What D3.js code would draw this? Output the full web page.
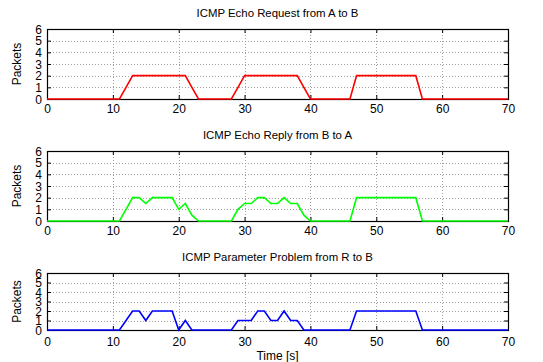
<!DOCTYPE html>
<html><head><meta charset="utf-8">
<script src="https://cdn.jsdelivr.net/npm/d3@7"></script>
<style>body{margin:0;background:#fff}svg{display:block}text{font-family:"Liberation Sans",Arial,sans-serif;}</style>
</head><body>
<svg id="c" width="543" height="362"></svg>
<script>
const times = d3.range(0, 71);
const titles = ["ICMP Echo Request from A to B","ICMP Echo Reply from B to A","ICMP Parameter Problem from R to B"];
const xTicks = [0,10,20,30,40,50,60,70];
const yTicks = [0,1,2,3,4,5,6];
const colors = ["#ff0000","#00ff00","#0000ff"];
// values per second t = 0..70
const requestAB = [0,0,0,0,0,0,0,0,0,0,0,0,1,2,2,2,2,2,2,2,2,2,1,0,0,0,0,0,0,1,2,2,2,2,2,2,2,2,2,1,0,0,0,0,0,0,0,2,2,2,2,2,2,2,2,2,2,0,0,0,0,0,0,0,0,0,0,0,0,0,0];
const replyBA   = [0,0,0,0,0,0,0,0,0,0,0,0,1,2,2,1.5,2,2,2,2,1,1.5,0.5,0,0,0,0,0,0,1,1.5,1.5,2,2,1.5,1.5,2,1.5,1.5,0.5,0,0,0,0,0,0,0,2,2,2,2,2,2,2,2,2,2,0,0,0,0,0,0,0,0,0,0,0,0,0,0];
const paramRB   = [0,0,0,0,0,0,0,0,0,0,0,0,1,2,2,1,2,2,2,2,0,1,0,0,0,0,0,0,0,1,1,1,2,2,1,1,2,1,1,0,0,0,0,0,0,0,0,2,2,2,2,2,2,2,2,2,2,0,0,0,0,0,0,0,0,0,0,0,0,0,0];
const series = [requestAB, replyBA, paramRB];

const svg = d3.select("#c");
const L = 47, R = 508;
const panels = [{top:29,bottom:99,title:17,pad:5},{top:151,bottom:221,title:139,pad:5},{top:273,bottom:330,title:261,pad:7}];
const x = d3.scaleLinear().domain([0,70]).range([L,R]);

panels.forEach((p,i)=>{
  const y = d3.scaleLinear().domain([0,6]).range([p.bottom,p.top]);
  const g = svg.append("g");
  // grid
  g.selectAll(".gy").data(yTicks.slice(1,-1)).join("line")
    .attr("x1",L).attr("x2",R).attr("y1",d=>Math.round(y(d))+0.5).attr("y2",d=>Math.round(y(d))+0.5)
    .attr("stroke","#888").attr("stroke-width",0.8).attr("stroke-dasharray","1,2");
  g.selectAll(".gx").data(xTicks.slice(1,-1)).join("line")
    .attr("x1",d=>Math.round(x(d))+0.5).attr("x2",d=>Math.round(x(d))+0.5).attr("y1",p.top).attr("y2",p.bottom)
    .attr("stroke","#888").attr("stroke-width",0.8).attr("stroke-dasharray","1,2");
  // axes with inward ticks
  const ax = g.append("g").attr("transform",`translate(0,${p.bottom})`)
    .call(d3.axisBottom(x).tickValues(xTicks).tickSize(-4).tickPadding(p.pad).tickFormat(d3.format("d")));
  const axTop = g.append("g").attr("transform",`translate(0,${p.top})`)
    .call(d3.axisTop(x).tickValues(xTicks).tickSize(-4).tickFormat(""));
  const ay = g.append("g").attr("transform",`translate(${L},0)`)
    .call(d3.axisLeft(y).tickValues(yTicks).tickSize(-4).tickPadding(5).tickFormat(d3.format("d")));
  const ayR = g.append("g").attr("transform",`translate(${R},0)`)
    .call(d3.axisRight(y).tickValues(yTicks).tickSize(-4).tickFormat(""));
  [ax,axTop,ay,ayR].forEach(a=>{
    a.select(".domain").remove();
    a.selectAll("line").attr("stroke","#000");
    a.selectAll("text").attr("font-size","12px").attr("fill","#000").attr("font-family","Liberation Sans, Arial, sans-serif");
  });
  ay.selectAll("text").attr("dy","0.36em");
  // frame
  g.append("rect").attr("x",L+0.5).attr("y",p.top+0.5).attr("width",R-L).attr("height",p.bottom-p.top)
    .attr("fill","none").attr("stroke","#000").attr("stroke-width",1.2);
  // line
  const line = d3.line().x((d,j)=>x(times[j])).y(d=>y(d));
  g.append("path").datum(series[i]).attr("d",line).attr("fill","none")
    .attr("stroke",colors[i]).attr("stroke-width",1.6).attr("stroke-linejoin","miter");
  // title
  g.append("text").attr("x",(L+R)/2).attr("y",p.title).attr("text-anchor","middle")
    .attr("font-size","11.4px").text(titles[i]);
  // y label
  g.append("text").attr("transform",`translate(21,${(p.top+p.bottom)/2}) rotate(-90)`)
    .attr("text-anchor","middle").attr("font-size","12px").text("Packets");
});
svg.append("text").attr("x",(L+R)/2).attr("y",360).attr("text-anchor","middle").attr("font-size","12px").text("Time [s]");
</script>
</body></html>
